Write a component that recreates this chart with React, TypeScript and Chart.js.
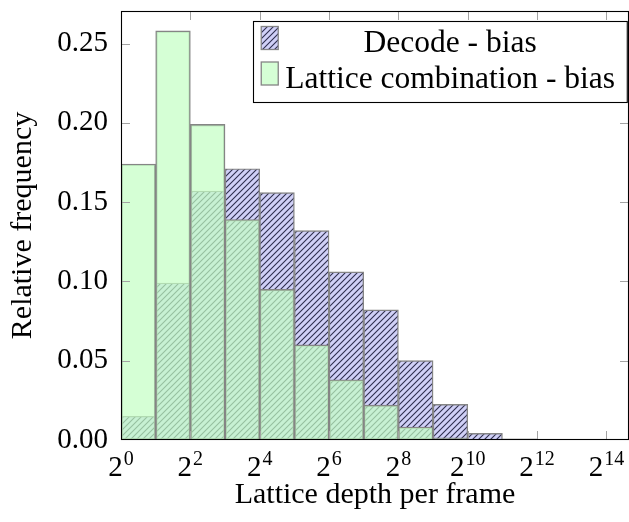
import { useEffect, useRef } from "react";
import { Chart, registerables } from "chart.js";

Chart.register(...registerables);

// log2 bin start exponents (each bin spans [e, e+1) in log2 units)
const binExponents = [0, 1, 2, 3, 4, 5, 6, 7, 8, 9, 10, 11, 12];
const decodeBias = [0.015, 0.099, 0.157, 0.171, 0.156, 0.132, 0.106, 0.082, 0.050, 0.0225, 0.0042, 0.0007, 0.0003];
const latticeBias = [0.174, 0.258, 0.199, 0.139, 0.095, 0.060, 0.038, 0.022, 0.0082, 0.0013, 0.0002];
const xTickExponents = [0, 2, 4, 6, 8, 10, 12, 14];
const yTickValues = [0, 0.05, 0.1, 0.15, 0.2, 0.25];
const seriesLabels = ["Decode - bias", "Lattice combination - bias"];
const xTitle = "Lattice depth per frame";
const yTitle = "Relative frequency";

const FONT = '"Liberation Serif", "Times New Roman", serif';
const BLUE_BG = "#d0d0f7";
const BLUE_LINE = "#2e2e4e";
const GREEN = "rgba(195,255,195,0.7)";
const EDGE = "#858585";

function makeHatch(bg: string, line: string): CanvasPattern | string {
  const c = document.createElement("canvas");
  c.width = 6;
  c.height = 6;
  const g = c.getContext("2d");
  if (!g) return bg;
  g.fillStyle = bg;
  g.fillRect(0, 0, 6, 6);
  g.strokeStyle = line;
  g.lineWidth = 1.1;
  g.beginPath();
  g.moveTo(-1, 7);
  g.lineTo(7, -1);
  g.moveTo(-1, 1);
  g.lineTo(1, -1);
  g.moveTo(5, 7);
  g.lineTo(7, 5);
  g.stroke();
  return g.createPattern(c, "repeat") || bg;
}

export default function App() {
  const ref = useRef<HTMLCanvasElement | null>(null);

  useEffect(() => {
    if (!ref.current) return;
    const hatch = makeHatch(BLUE_BG, BLUE_LINE);
    const TL = 9;

    const overlay = {
      id: "overlay",
      afterDraw(chart: any) {
        const { ctx, chartArea: a } = chart;
        const x = chart.scales.x;
        const y = chart.scales.y;
        ctx.save();
        // inward tick marks on all four sides
        ctx.strokeStyle = "#a3a3a3";
        ctx.lineWidth = 1;
        ctx.beginPath();
        x.ticks.forEach((t: any) => {
          const px = Math.round(x.getPixelForValue(t.value)) + 0.5;
          if (px <= a.left + 1 || px >= a.right - 1) return;
          ctx.moveTo(px, a.bottom);
          ctx.lineTo(px, a.bottom - TL);
          ctx.moveTo(px, a.top);
          ctx.lineTo(px, a.top + TL);
        });
        y.ticks.forEach((t: any) => {
          const py = Math.round(y.getPixelForValue(t.value)) + 0.5;
          if (py <= a.top + 1 || py >= a.bottom - 1) return;
          ctx.moveTo(a.left, py);
          ctx.lineTo(a.left + TL, py);
          ctx.moveTo(a.right, py);
          ctx.lineTo(a.right - TL, py);
        });
        ctx.stroke();
        // axis box
        ctx.strokeStyle = "#000";
        ctx.lineWidth = 1.1;
        ctx.strokeRect(a.left + 0.5, a.top + 0.5, a.right - a.left - 1, a.bottom - a.top - 1);

        // x tick labels with superscript exponents
        ctx.fillStyle = "#000";
        ctx.textBaseline = "alphabetic";
        ctx.textAlign = "left";
        x.ticks.forEach((t: any) => {
          const px = x.getPixelForValue(t.value);
          const base = "2";
          const exp = String(Math.round(t.value));
          ctx.font = `29px ${FONT}`;
          const wb = ctx.measureText(base).width;
          ctx.font = `20px ${FONT}`;
          const we = ctx.measureText(exp).width;
          const sx = px - (wb + we + 1) / 2;
          ctx.font = `29px ${FONT}`;
          ctx.fillText(base, sx, a.bottom + 36);
          ctx.font = `20px ${FONT}`;
          ctx.fillText(exp, sx + wb + 1, a.bottom + 25);
        });

        // legend
        ctx.font = `31.5px ${FONT}`;
        const labels = chart.data.datasets.map((d: any) => d.label);
        const maxW = Math.max(...labels.map((l: string) => ctx.measureText(l).width));
        const padL = 8, sw = 17, sh = 23, gap = 7, padR = 13;
        const boxW = padL + sw + gap + maxW + padR;
        const boxR = a.right - 1;
        const boxL = boxR - boxW;
        const boxT = a.top + 10;
        const boxH = 81;
        ctx.fillStyle = "#fff";
        ctx.fillRect(boxL, boxT, boxW, boxH);
        ctx.strokeStyle = "#000";
        ctx.lineWidth = 1.1;
        ctx.strokeRect(Math.round(boxL) + 0.5, boxT + 0.5, boxW - 1, boxH);
        const rows = [boxT + 17, boxT + 52.5];
        const fills = [hatch, GREEN];
        labels.forEach((l: string, i: number) => {
          const cy = rows[i];
          const sxL = boxL + padL;
          ctx.fillStyle = fills[i];
          ctx.fillRect(sxL, cy - sh / 2, sw, sh);
          ctx.strokeStyle = EDGE;
          ctx.lineWidth = 1.3;
          ctx.strokeRect(sxL, cy - sh / 2, sw, sh);
          ctx.fillStyle = "#000";
          ctx.textAlign = "center";
          ctx.textBaseline = "alphabetic";
          const colL = sxL + sw + gap;
          ctx.fillText(l, colL + maxW / 2, cy + 14);
        });
        ctx.restore();
      },
    };

    const chart = new Chart(ref.current, {
      type: "bar",
      data: {
        datasets: [
          {
            label: seriesLabels[0],
            data: decodeBias.map((v, i) => ({ x: binExponents[i] + 0.5, y: v })),
            backgroundColor: hatch as any,
            borderColor: EDGE,
            borderWidth: 1.4,
            borderSkipped: false,
            order: 2,
            grouped: false,
            barPercentage: 1,
            categoryPercentage: 1,
          },
          {
            label: seriesLabels[1],
            data: latticeBias.map((v, i) => ({ x: binExponents[i] + 0.5, y: v })),
            backgroundColor: GREEN,
            borderColor: EDGE,
            borderWidth: 1.4,
            borderSkipped: false,
            order: 1,
            grouped: false,
            barPercentage: 1,
            categoryPercentage: 1,
          },
        ],
      } as any,
      options: {
        responsive: false,
        animation: false,
        layout: { padding: { top: 11, left: 0, right: 0, bottom: 0 } },
        plugins: {
          legend: { display: false },
          tooltip: { enabled: false },
        },
        scales: {
          x: {
            type: "linear",
            offset: false,
            min: 0,
            max: 14.65,
            grid: { display: false, drawTicks: false, offset: false },
            border: { display: false },
            ticks: { display: false, stepSize: 2, includeBounds: false },
            afterBuildTicks: (s: any) => {
              s.ticks = xTickExponents.map((v) => ({ value: v }));
            },
            afterFit: (s: any) => {
              s.height = 82;
              s.paddingLeft = 0;
              s.paddingRight = 0;
            },
            title: {
              display: true,
              text: xTitle,
              color: "#000",
              font: { family: FONT, size: 30 },
              padding: { top: 0, bottom: 9 },
            },
          },
          y: {
            type: "linear",
            min: 0,
            max: 0.2705,
            grid: { display: false, drawTicks: false },
            border: { display: false },
            ticks: {
              includeBounds: false,
              stepSize: 0.05,
              color: "#000",
              padding: 13,
              font: { family: FONT, size: 29 },
              callback: (v: any) => Number(v).toFixed(2),
            },
            afterBuildTicks: (s: any) => {
              s.ticks = yTickValues.map((v) => ({ value: v }));
            },
            afterFit: (s: any) => {
              s.width = 121;
              s.paddingTop = 0;
              s.paddingBottom = 0;
            },
            title: {
              display: true,
              text: yTitle,
              color: "#000",
              font: { family: FONT, size: 30 },
              padding: { top: 5, bottom: 0 },
            },
          },
        },
      } as any,
      plugins: [overlay],
    });
    return () => chart.destroy();
  }, []);

  return (
    <div style={{ position: "absolute", left: 0, top: 0, width: 629, height: 522 }}>
      <canvas ref={ref} width={629} height={522} style={{ display: "block" }} />
    </div>
  );
}
